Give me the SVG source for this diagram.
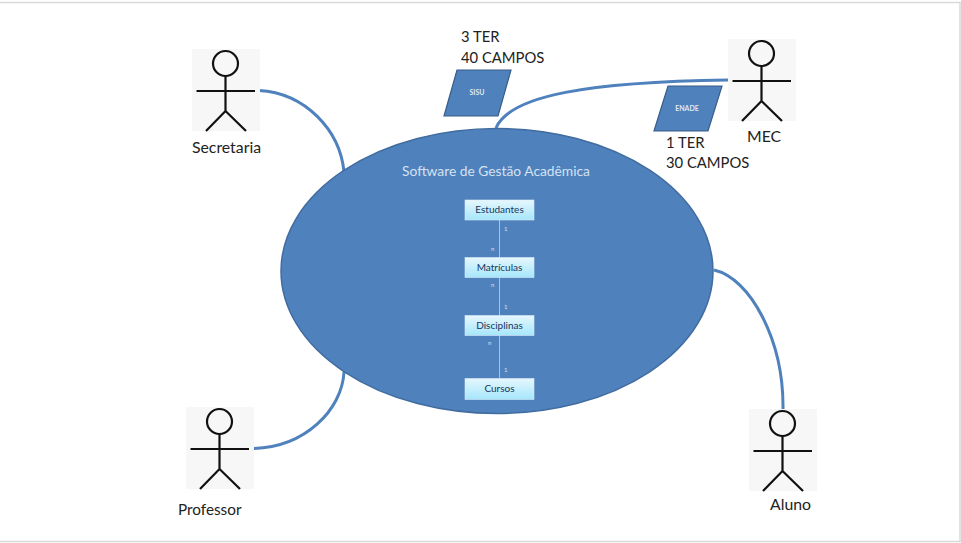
<svg xmlns="http://www.w3.org/2000/svg" width="961" height="543" viewBox="0 0 961 543">
<style>
text{font-family:"Lato","Carlito","Open Sans",sans-serif}
.bg{fill:#f7f7f7}
.st{fill:none;stroke:#111;stroke-width:2.2}
.lbl{font-size:15.8px;fill:#222}
.big{font-size:14.8px;fill:#222}
.conn{fill:none;stroke:#4f81bd;stroke-width:3}
.box{fill:url(#bx);stroke:#dce9f5;stroke-width:.6}
.bt{font-size:10px;fill:#17365d;text-anchor:middle}
.m{font-size:6px;fill:#d5e2f0}
.para{fill:#4f81bd;stroke:#385d8a;stroke-width:1.2}
.pt{font-size:7px;font-weight:700;fill:#dfe9f4;text-anchor:middle}
</style>
<defs>
<linearGradient id="bx" x1="0" y1="0" x2="0" y2="1"><stop offset="0" stop-color="#e6f7fd"/><stop offset="1" stop-color="#a5e6fb"/></linearGradient>
<g id="actor">
<rect class="bg" width="68" height="82"/>
<circle class="st" cx="33.500" cy="14.500" r="12.500"/>
<path class="st" d="M33.500 27V62M4.500 42H63M14 82L33.500 62L54 82"/>
</g>
</defs>
<rect width="961" height="543" fill="#fff"/>
<path d="M0 2.500H960V541.500H0" fill="none" stroke="#d9d9d9" stroke-width="1.500"/>
<g id="connectors">
<path class="conn" d="M259 90.500C305 93 340 130 344 172"/>
<path class="conn" d="M254 448.500C305 447 342 410 344 372"/>
<path class="conn" d="M496 128C510 95 590 82 728 80"/>
<path class="conn" d="M714 270C750 278 784 340 783 410"/>
</g>
<g id="ellipse-software">
<ellipse cx="497" cy="271" rx="216" ry="142.500" fill="#4f81bd" stroke="#416c9f" stroke-width="1.500"/>
<text x="496" y="176" font-size="13.800" fill="#d5e2f0" text-anchor="middle">Software de Gestão Acadêmica</text>
</g>
<g id="links">
<path d="M499.500 220V378" stroke="#a9c3e0" stroke-width="1" fill="none"/>
<text class="m" x="504" y="231">1</text><text class="m" x="491" y="251">n</text>
<text class="m" x="491" y="287">n</text><text class="m" x="504" y="309">1</text>
<text class="m" x="488" y="345">n</text><text class="m" x="504" y="372">1</text>
</g>
<g id="estudantes"><rect class="box" x="465" y="200" width="69" height="20"/><text class="bt" x="499.500" y="213">Estudantes</text></g>
<g id="matriculas"><rect class="box" x="465" y="257.500" width="69" height="20"/><text class="bt" x="499.500" y="271">Matrículas</text></g>
<g id="disciplinas"><rect class="box" x="465" y="315.500" width="69" height="20"/><text class="bt" x="499.500" y="329">Disciplinas</text></g>
<g id="cursos"><rect class="box" x="465" y="378.500" width="69" height="21"/><text class="bt" x="499.500" y="392">Cursos</text></g>
<g id="sisu">
<polygon class="para" points="457,70 511,70 498,116 444,116"/>
<text class="pt" x="477" y="95">SISU</text>
<text class="big" x="461" y="42">3 TER</text>
<text class="big" x="461" y="63">40 CAMPOS</text>
</g>
<g id="enade">
<polygon class="para" points="668,86 722,86 708,131 654,131"/>
<text class="pt" x="687" y="111">ENADE</text>
<text class="big" x="666" y="148">1 TER</text>
<text class="big" x="666" y="168">30 CAMPOS</text>
</g>
<g id="secretaria"><use href="#actor" x="192" y="49"/><text class="lbl" x="192" y="153">Secretaria</text></g>
<g id="mec"><use href="#actor" x="728" y="39"/><text class="lbl" x="747" y="142">MEC</text></g>
<g id="professor"><use href="#actor" x="186" y="407"/><text class="lbl" x="178" y="515" style="font-size:15.300px">Professor</text></g>
<g id="aluno"><use href="#actor" x="749" y="409"/><text class="lbl" x="770" y="510">Aluno</text></g>
</svg>
